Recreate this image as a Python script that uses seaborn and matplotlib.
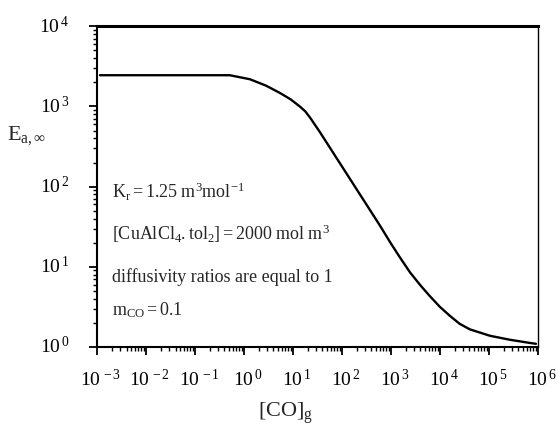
import numpy as np
import pandas as pd
import matplotlib
matplotlib.use("Agg")
import matplotlib.pyplot as plt
import matplotlib.transforms as mtransforms
import seaborn as sns
from matplotlib.ticker import LogLocator, FixedLocator, NullFormatter

# data (log10 values)
log_co = [-2.94, -2.0, -1.0, -0.29, 0.12, 0.45, 0.73, 0.95, 1.14, 1.25, 1.35, 1.55, 1.96, 2.16, 2.37, 2.57,
          2.78, 2.98, 3.18, 3.39, 3.60, 3.80, 4.00, 4.20, 4.40, 4.61, 5.02, 5.43, 5.84, 5.96]
log_e = [3.39, 3.39, 3.39, 3.39, 3.34, 3.26, 3.17, 3.09, 3.00, 2.94, 2.86, 2.68, 2.29, 2.10, 1.90, 1.71,
         1.51, 1.31, 1.12, 0.93, 0.77, 0.63, 0.50, 0.39, 0.29, 0.22, 0.14, 0.09, 0.05, 0.04]
x_ticks = [-3, -2, -1, 0, 1, 2, 3, 4, 5, 6]
y_ticks = [0, 1, 2, 3, 4]

df = pd.DataFrame({"co": 10.0 ** np.array(log_co), "e": 10.0 ** np.array(log_e)})

sns.set_style("ticks")
plt.rcParams["font.family"] = ["Liberation Serif", "DejaVu Serif"]
plt.rcParams["mathtext.fontset"] = "custom"
plt.rcParams["mathtext.rm"] = "Liberation Serif"
plt.rcParams["mathtext.it"] = "Liberation Serif:italic"
plt.rcParams["mathtext.bf"] = "Liberation Serif:bold"

fig = plt.figure(figsize=(5.56, 4.31), dpi=100)
ax = fig.add_axes([0.1745, 0.1926, 0.793, 0.744])

sns.lineplot(data=df, x="co", y="e", ax=ax, color="black", linewidth=1.7, estimator=None, sort=False)
ax.set_xscale("log")
ax.set_yscale("log")
ax.set_xlim(1e-3, 1e6)
ax.set_ylim(1e0, 1e4)

ax.xaxis.set_major_locator(FixedLocator([10.0 ** t for t in x_ticks]))
ax.set_xticklabels([r"$\mathregular{10^{\,%d}}$" % t for t in x_ticks], fontsize=14)
ax.yaxis.set_major_locator(FixedLocator([10.0 ** t for t in y_ticks]))
ax.set_yticklabels([r"$\mathregular{10^{\,%d}}$" % t for t in y_ticks], fontsize=14)
ax.xaxis.set_minor_locator(LogLocator(base=10, subs=np.arange(2, 10), numticks=20))
ax.yaxis.set_minor_locator(LogLocator(base=10, subs=np.arange(2, 10), numticks=20))
ax.xaxis.set_minor_formatter(NullFormatter())
ax.yaxis.set_minor_formatter(NullFormatter())
ax.tick_params(which="major", direction="out", length=6, width=1.3, colors="black")
ax.tick_params(axis="x", which="major", pad=9)
ax.tick_params(axis="y", which="major", pad=14)
ax.tick_params(which="minor", direction="out", length=3, width=1.0, colors="black")
ax.tick_params(top=False, right=False)
for s in ["left", "bottom"]:
    ax.spines[s].set_linewidth(1.5)
ax.spines["top"].set_linewidth(2.2)
ax.spines["right"].set_linewidth(1.0)
for s in ax.spines.values():
    s.set_color("black")
ax.set_xlabel("")
ax.set_ylabel("")

# shift labels so that the "10" sits at the tick
xoff = mtransforms.ScaledTranslation(4 / 100, 0, fig.dpi_scale_trans)
for lab in ax.get_xticklabels():
    lab.set_transform(lab.get_transform() + xoff)
yoff = mtransforms.ScaledTranslation(0, 3 / 100, fig.dpi_scale_trans)
for lab in ax.get_yticklabels():
    lab.set_transform(lab.get_transform() + yoff)

fig.text(0.047, 0.685, r"$\mathregular{E_{a,\infty}}$", fontsize=16, ha="center", va="center")
fig.text(0.513, 0.042, r"$\mathregular{[CO]_g}$", fontsize=16, ha="center", va="center")

tfs = 13
ax.text(0.035, 0.488, r"$\mathregular{K_r = 1.25\ m^3 mol^{-1}}$", transform=ax.transAxes, fontsize=tfs, va="center")
ax.text(0.035, 0.356, r"$\mathregular{[CuAlCl_4.tol_2] = 2000\ mol\ m^3}$", transform=ax.transAxes, fontsize=tfs, va="center")
ax.text(0.035, 0.22, "diffusivity ratios are equal to 1", transform=ax.transAxes, fontsize=tfs, va="center")
ax.text(0.035, 0.117, r"$\mathregular{m_{CO} = 0.1}$", transform=ax.transAxes, fontsize=tfs, va="center")

fig.savefig("out.png", dpi=100)
